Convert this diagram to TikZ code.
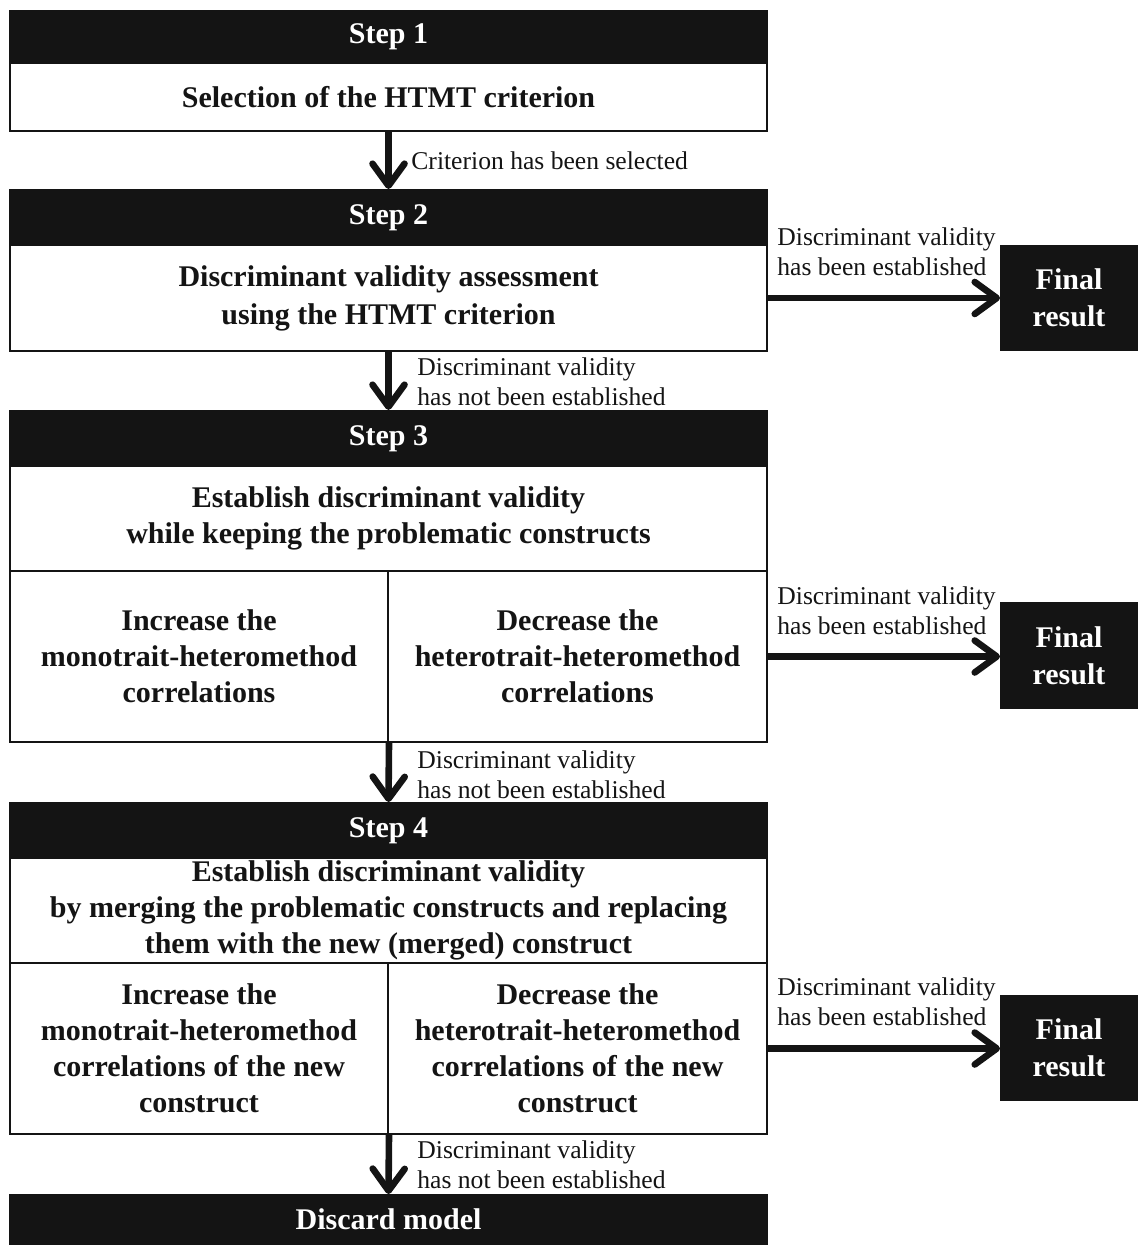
\documentclass[tikz,border=0pt]{standalone}
\usepackage{fontspec}
\setmainfont{Liberation Serif}
\usetikzlibrary{arrows.meta}
\definecolor{ink}{RGB}{20,20,20}
\begin{document}
\begin{tikzpicture}[x=0.5pt,y=-0.5pt,
  hdr/.style={fill=ink, draw=ink, line width=1pt, text=white, font=\bfseries\fontsize{15}{18.5}\selectfont, inner sep=0pt, align=center},
  box/.style={draw=ink, line width=1pt, fill=white, text=ink, font=\bfseries\fontsize{15}{18}\selectfont, inner sep=0pt, align=center},
  lbl/.style={font=\fontsize{12.8}{15}\selectfont, anchor=west, align=left, inner sep=0pt, text=ink},
  arr/.style={draw=ink, line width=3.3pt, -{Straight Barb[length=11pt,width=16pt,line cap=round,line join=round]}}]
\useasboundingbox (0,0) rectangle (1137,1245);
% Step 1
\node[hdr, minimum width=378.5pt, minimum height=26pt] (h1) at (388.5,37) {Step 1};
\node[box, minimum width=378.5pt, minimum height=34pt] (b1) at (388.5,97) {Selection of the HTMT criterion};
% Step 2
\node[hdr, minimum width=378.5pt, minimum height=27.5pt] (h2) at (388.5,217.5) {Step 2};
\node[box, minimum width=378.5pt, minimum height=53pt, font=\bfseries\fontsize{15}{19}\selectfont] (b2) at (388.5,298) {Discriminant validity assessment\\using the HTMT criterion};
\node[hdr, minimum width=68pt, minimum height=52pt] (f1) at (1069,298) {Final\\result};
% Step 3
\node[hdr, minimum width=378.5pt, minimum height=27.5pt] (h3) at (388.5,438.5) {Step 3};
\node[box, minimum width=378.5pt, minimum height=52.5pt] (b3) at (388.5,518.5) {Establish discriminant validity\\while keeping the problematic constructs};
\node[box, minimum width=189pt, minimum height=85.5pt] (s3l) at (199,656.5) {Increase the\\monotrait-heteromethod\\correlations};
\node[box, minimum width=189.5pt, minimum height=85.5pt] (s3r) at (577.5,656.5) {Decrease the\\heterotrait-heteromethod\\correlations};
\node[hdr, minimum width=68pt, minimum height=52.5pt] (f2) at (1069,655.5) {Final\\result};
% Step 4
\node[hdr, minimum width=378.5pt, minimum height=27.5pt] (h4) at (388.5,830.5) {Step 4};
\node[box, minimum width=378.5pt, minimum height=52.5pt] (b4) at (388.5,910.5) {Establish discriminant validity\\by merging the problematic constructs and replacing\\them with the new (merged) construct};
\node[box, minimum width=189pt, minimum height=85.5pt] (s4l) at (199,1048.5) {Increase the\\monotrait-heteromethod\\correlations of the new\\construct};
\node[box, minimum width=189.5pt, minimum height=85.5pt] (s4r) at (577.5,1048.5) {Decrease the\\heterotrait-heteromethod\\correlations of the new\\construct};
\node[hdr, minimum width=68pt, minimum height=52pt] (f3) at (1069,1048) {Final\\result};
% Discard
\node[hdr, minimum width=378.5pt, minimum height=24.5pt] (h5) at (388.5,1219.5) {Discard model};
% arrows
\draw[arr] (b1.south) -- (h2.north);
\draw[arr] (b2.south) -- (h3.north);
\draw[arr] (s3l.south east) -- (h4.north);
\draw[arr] (s4l.south east) -- (h5.north);
\draw[arr] (b2.east) -- (f1.west);
\draw[arr] (s3r.east) -- (s3r.east -| f2.west);
\draw[arr] (s4r.east) -- (s4r.east -| f3.west);
% labels
\node[lbl] (l1) at (411,161) {Criterion has been selected};
\node[lbl] (l2) at (417,382) {Discriminant validity\\has not been established};
\node[lbl] (r1) at (777,251.5) {Discriminant validity\\has been established};
\node[lbl] (r2) at (777,610.5) {Discriminant validity\\has been established};
\node[lbl] (l3) at (417,775) {Discriminant validity\\has not been established};
\node[lbl] (r3) at (777,1002) {Discriminant validity\\has been established};
\node[lbl] (l4) at (417,1165) {Discriminant validity\\has not been established};
\end{tikzpicture}
\end{document}
